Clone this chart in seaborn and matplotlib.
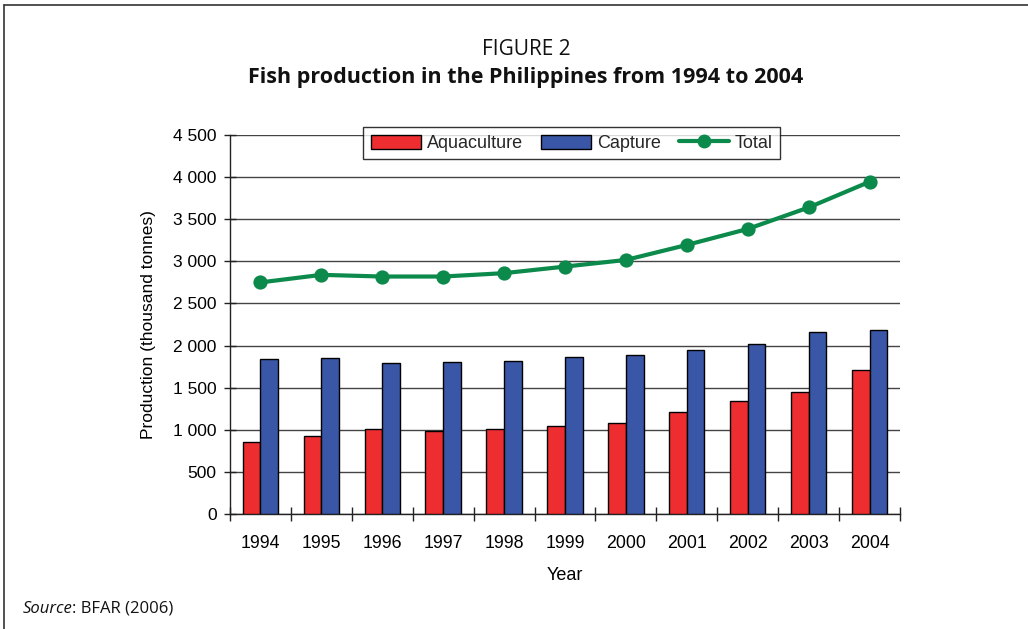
import matplotlib
matplotlib.use("Agg")
import matplotlib.pyplot as plt
import seaborn as sns
import pandas as pd
import numpy as np
from matplotlib.patches import Patch
from matplotlib.lines import Line2D
from matplotlib.ticker import FuncFormatter, FixedLocator

years = ["1994", "1995", "1996", "1997", "1998", "1999", "2000", "2001", "2002", "2003", "2004"]
aquaculture = [860, 930, 1005, 990, 1005, 1040, 1085, 1215, 1340, 1448, 1710]
capture = [1835, 1850, 1790, 1805, 1815, 1870, 1890, 1945, 2015, 2158, 2190]
total = [2750, 2840, 2820, 2820, 2860, 2938, 3017, 3195, 3385, 3640, 3945]
series_names = ["Aquaculture", "Capture", "Total"]
yticks = [0, 500, 1000, 1500, 2000, 2500, 3000, 3500, 4000, 4500]

RED = "#EE2D30"
BLUE = "#3A56A6"
GREEN = "#0B8A4B"

sns.set_theme(style="white")
plt.rcParams["font.family"] = ["Liberation Sans", "DejaVu Sans"]

fig = plt.figure(figsize=(10.28, 6.29), dpi=100)
ax = fig.add_axes([0.2237, 0.1828, 0.6518, 0.6025])

bars = pd.DataFrame({
    "Year": years * 2,
    "Value": aquaculture + capture,
    "Series": [series_names[0]] * len(years) + [series_names[1]] * len(years),
})
sns.barplot(data=bars, x="Year", y="Value", hue="Series", order=years,
            palette=[RED, BLUE], width=0.58, edgecolor="black", linewidth=1.0,
            saturation=1, ax=ax, legend=False, zorder=3)

line_df = pd.DataFrame({"Year": years, "Total": total})
sns.pointplot(data=line_df, x="Year", y="Total", order=years, color=GREEN,
              markers="o", markersize=8, linewidth=3, errorbar=None, ax=ax)
for l in ax.lines:
    l.set_zorder(5)

ax.set_ylim(0, 4500)
ax.set_xlim(-0.5, len(years) - 0.5)
ax.set_yticks(yticks)
ax.yaxis.set_major_formatter(FuncFormatter(lambda v, p: f"{int(v):,}".replace(",", " ")))
ax.grid(axis="y", color="#444444", linewidth=1.0, zorder=0)
ax.set_axisbelow(True)
for s in ["top", "right"]:
    ax.spines[s].set_visible(False)
for s in ["left", "bottom"]:
    ax.spines[s].set_color("#222222")
    ax.spines[s].set_linewidth(1.0)

ax.xaxis.set_minor_locator(FixedLocator(np.arange(-0.5, len(years), 1.0)))
ax.tick_params(axis="x", which="major", length=0, pad=15, labelsize=12.8, colors="black")
ax.tick_params(axis="x", which="minor", length=10, direction="inout", width=1, color="#222222", bottom=True)
ax.tick_params(axis="y", which="major", length=9, direction="inout", width=1, color="#222222",
               left=True, pad=5, labelsize=12.5, labelcolor="black")

ax.set_xlabel("Year", fontsize=13, labelpad=11, color="black")
ax.set_ylabel("Production (thousand tonnes)", fontsize=12.5, labelpad=12, color="black")

handles = [
    Patch(facecolor=RED, edgecolor="black", linewidth=1.0),
    Patch(facecolor=BLUE, edgecolor="black", linewidth=1.0),
    Line2D([0], [0], color=GREEN, linewidth=3, marker="o", markersize=9),
]
leg = ax.legend(handles, series_names, ncol=3, loc="upper center", bbox_to_anchor=(0.51, 1.02),
                frameon=True, fancybox=False, fontsize=13, handlelength=2.8, handleheight=0.8,
                columnspacing=1.0, handletextpad=0.3, borderpad=0.4, borderaxespad=0)
leg.get_frame().set_edgecolor("black")
leg.get_frame().set_linewidth(1.0)
leg.set_zorder(10)

fig.text(0.5117, 0.922, "FIGURE 2", ha="center", va="center", fontsize=15,
         family=["Open Sans", "DejaVu Sans"], color="#111111")
fig.text(0.5117, 0.876, "Fish production in the Philippines from 1994 to 2004", ha="center",
         va="center", fontsize=15.5, fontweight="bold", family=["Open Sans", "DejaVu Sans"], color="#111111")
src = fig.text(0.022, 0.032, "Source", ha="left", va="center", fontsize=12, style="italic",
               family=["Open Sans", "DejaVu Sans"], color="#111111")
fig.canvas.draw()
bb = src.get_window_extent(renderer=fig.canvas.get_renderer())
x1 = fig.transFigure.inverted().transform((bb.x1, bb.y0))[0]
fig.text(x1, 0.032, ": BFAR (2006)", ha="left", va="center", fontsize=12,
         family=["Open Sans", "DejaVu Sans"], color="#111111")

# frame around figure (left and top)
fig.add_artist(Line2D([0.004, 0.004], [0.0, 0.992], transform=fig.transFigure, color="#333333", linewidth=1.2))
fig.add_artist(Line2D([0.004, 1.0], [0.992, 0.992], transform=fig.transFigure, color="#333333", linewidth=1.2))

fig.savefig("out.png", dpi=100, facecolor="white")
